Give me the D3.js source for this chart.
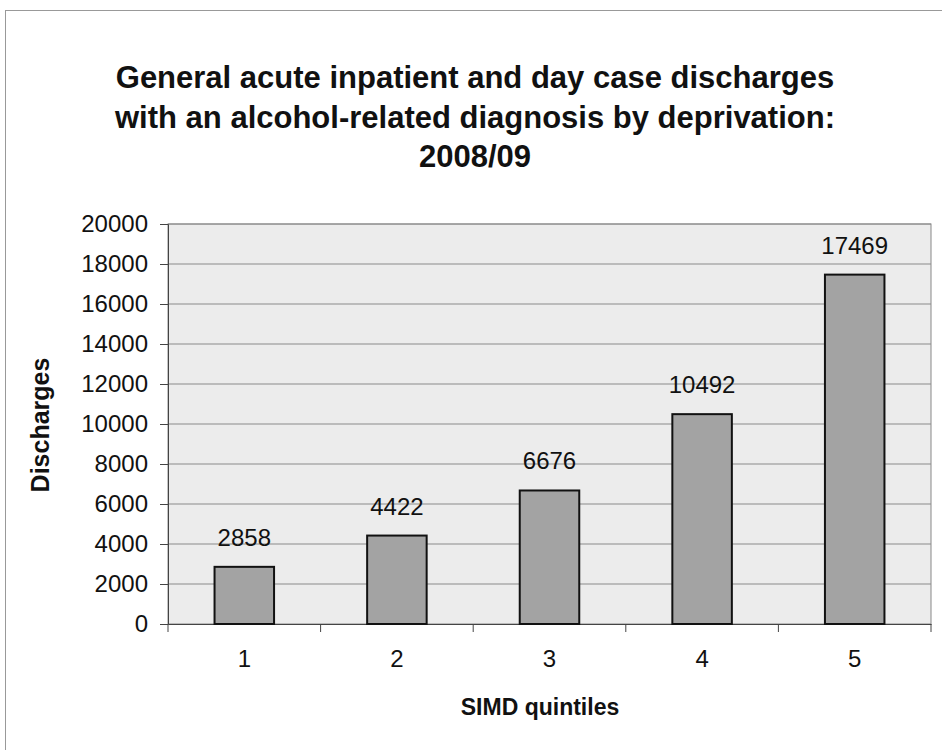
<!DOCTYPE html>
<html><head><meta charset="utf-8">
<script src="https://cdn.jsdelivr.net/npm/d3@7"></script>
<style>body{margin:0;background:#fff;}svg{display:block;font-family:"Liberation Sans",Arial,sans-serif;}</style>
</head><body>
<script>
const categories = ["1","2","3","4","5"];
const values = [2858, 4422, 6676, 10492, 17469];
const yTicks = [0,2000,4000,6000,8000,10000,12000,14000,16000,18000,20000];
const titleLines = ["General acute inpatient and day case discharges","with an alcohol-related diagnosis by deprivation:","2008/09"];

const W=942,H=750;
const svg=d3.select("body").append("svg").attr("width",W).attr("height",H);
svg.append("rect").attr("x",0).attr("y",0).attr("width",W).attr("height",H).attr("fill","#fff");
// outer border
svg.append("rect").attr("x",5.5).attr("y",10.5).attr("width",W+10).attr("height",H+10)
  .attr("fill","none").attr("stroke","#999").attr("stroke-width",1);

const m={left:168,right:931,top:224,bottom:624};
const x=d3.scaleBand().domain(categories).range([m.left,m.right]).paddingInner(0.61).paddingOuter(0.305);
const xb=d3.scaleBand().domain(categories).range([m.left,m.right]);
const y=d3.scaleLinear().domain([0,20000]).range([m.bottom,m.top]);

// title
svg.append("g").selectAll("text").data(titleLines).join("text")
  .attr("x",475).attr("y",(d,i)=>88+i*39.5).attr("text-anchor","middle")
  .attr("font-weight","bold").attr("font-size",31).attr("fill","#111").text(d=>d);

// plot area
svg.append("rect").attr("x",m.left).attr("y",m.top).attr("width",m.right-m.left).attr("height",m.bottom-m.top)
  .attr("fill","#ececec").attr("stroke","#888").attr("stroke-width",1);

// grid
svg.append("g").selectAll("line").data(yTicks.slice(1)).join("line")
  .attr("x1",m.left).attr("x2",m.right).attr("y1",d=>y(d)).attr("y2",d=>y(d))
  .attr("stroke","#8a8a8a").attr("stroke-width",1);

// y axis
const ya=svg.append("g").attr("transform",`translate(${m.left},0)`)
  .call(d3.axisLeft(y).tickValues(yTicks).tickSize(8).tickPadding(12).tickFormat(d3.format("d")));
ya.select(".domain").attr("stroke","#444");
ya.selectAll(".tick line").attr("stroke","#444");
ya.selectAll("text").attr("font-size",24).attr("fill","#111").attr("font-family","Liberation Sans, Arial, sans-serif");

// x axis
const xa=svg.append("g").attr("transform",`translate(0,${m.bottom})`)
  .call(d3.axisBottom(xb).tickSize(0).tickPadding(26));
xa.select(".domain").attr("stroke","#444");
xa.selectAll("text").attr("font-size",24).attr("fill","#111").attr("font-family","Liberation Sans, Arial, sans-serif");
// category boundary ticks
const bounds=categories.map(c=>xb(c)).concat([m.right]);
svg.append("g").selectAll("line").data(bounds).join("line")
  .attr("x1",d=>d).attr("x2",d=>d).attr("y1",m.bottom).attr("y2",m.bottom+8).attr("stroke","#444");

// bars
svg.append("g").selectAll("rect").data(values).join("rect")
  .attr("x",(d,i)=>x(categories[i])).attr("width",x.bandwidth())
  .attr("y",d=>y(d)).attr("height",d=>y(0)-y(d))
  .attr("fill","#a3a3a3").attr("stroke","#111").attr("stroke-width",2);

// labels
svg.append("g").selectAll("text").data(values).join("text")
  .attr("x",(d,i)=>x(categories[i])+x.bandwidth()/2).attr("y",d=>y(d)-21)
  .attr("text-anchor","middle").attr("font-size",24).attr("fill","#111").text(d=>d);

// axis titles
svg.append("text").attr("x",540).attr("y",715).attr("text-anchor","middle")
  .attr("font-weight","bold").attr("font-size",23).attr("fill","#111").text("SIMD quintiles");
svg.append("text").attr("transform","translate(49,425) rotate(-90)").attr("text-anchor","middle")
  .attr("font-weight","bold").attr("font-size",25).attr("fill","#111").text("Discharges");
</script>
</body></html>
